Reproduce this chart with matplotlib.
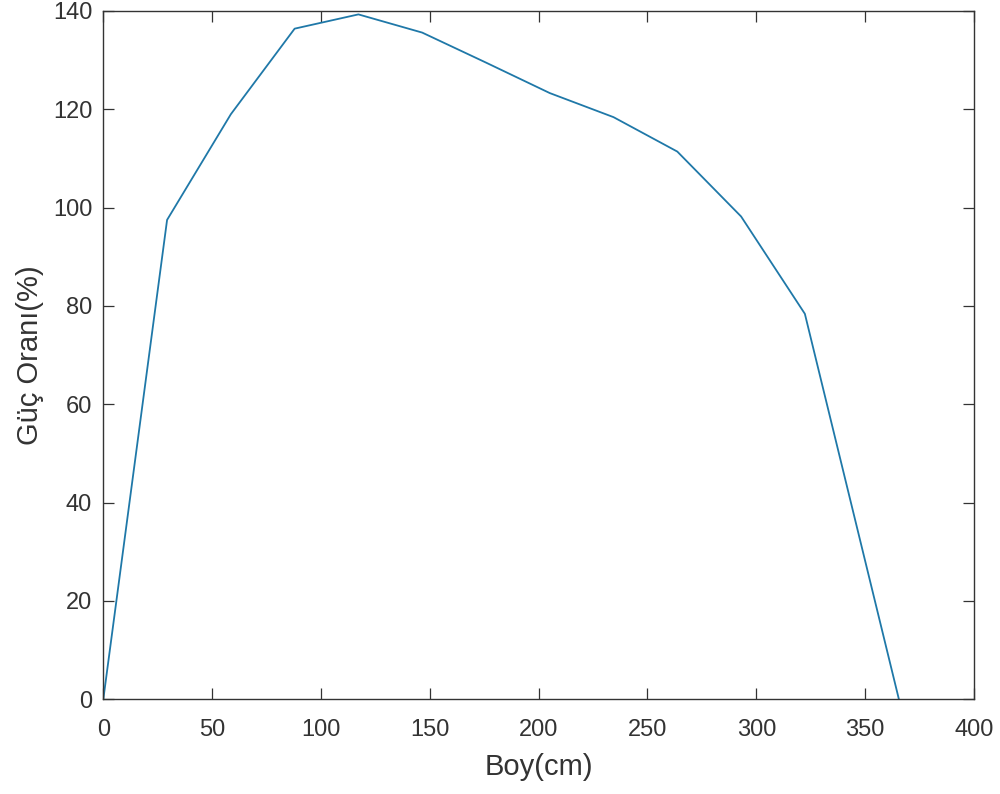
import matplotlib
matplotlib.use("Agg")
import matplotlib.pyplot as plt

# data
boy_cm = [0, 29.3, 58.6, 87.9, 117.2, 146.5, 175.8, 205.1, 234.4, 263.7, 293.0, 322.3, 365.5]
guc_orani = [0, 97.5, 119.0, 136.4, 139.3, 135.6, 129.5, 123.3, 118.4, 111.4, 98.2, 78.4, 0]

x_ticks = [0, 50, 100, 150, 200, 250, 300, 350, 400]
y_ticks = [0, 20, 40, 60, 80, 100, 120, 140]

plt.rcParams['font.family'] = ['Liberation Sans', 'DejaVu Sans']

fig = plt.figure(figsize=(10, 7.94), dpi=100)
ax = fig.add_axes([0.1033, 0.1193, 0.8707, 0.8669])

ax.plot(boy_cm, guc_orani, color='#1f78a8', linewidth=1.3)

ax.set_xlim(0, 400)
ax.set_ylim(0, 140)
ax.set_xticks(x_ticks)
ax.set_yticks(y_ticks)

dark = '#333333'
ax.tick_params(direction='in', length=8, width=0.9, top=True, right=True,
               labelsize=17, colors=dark)
ax.tick_params(axis='x', pad=14)
ax.tick_params(axis='y', pad=8)
for sp in ax.spines.values():
    sp.set_color(dark)
    sp.set_linewidth(1.0)

ax.set_xlabel('Boy(cm)', fontsize=21, color=dark, labelpad=9)
ax.set_ylabel('Güç Oranı(%)', fontsize=21, color=dark, labelpad=6)

fig.savefig('out.png', dpi=100)
plt.close(fig)
